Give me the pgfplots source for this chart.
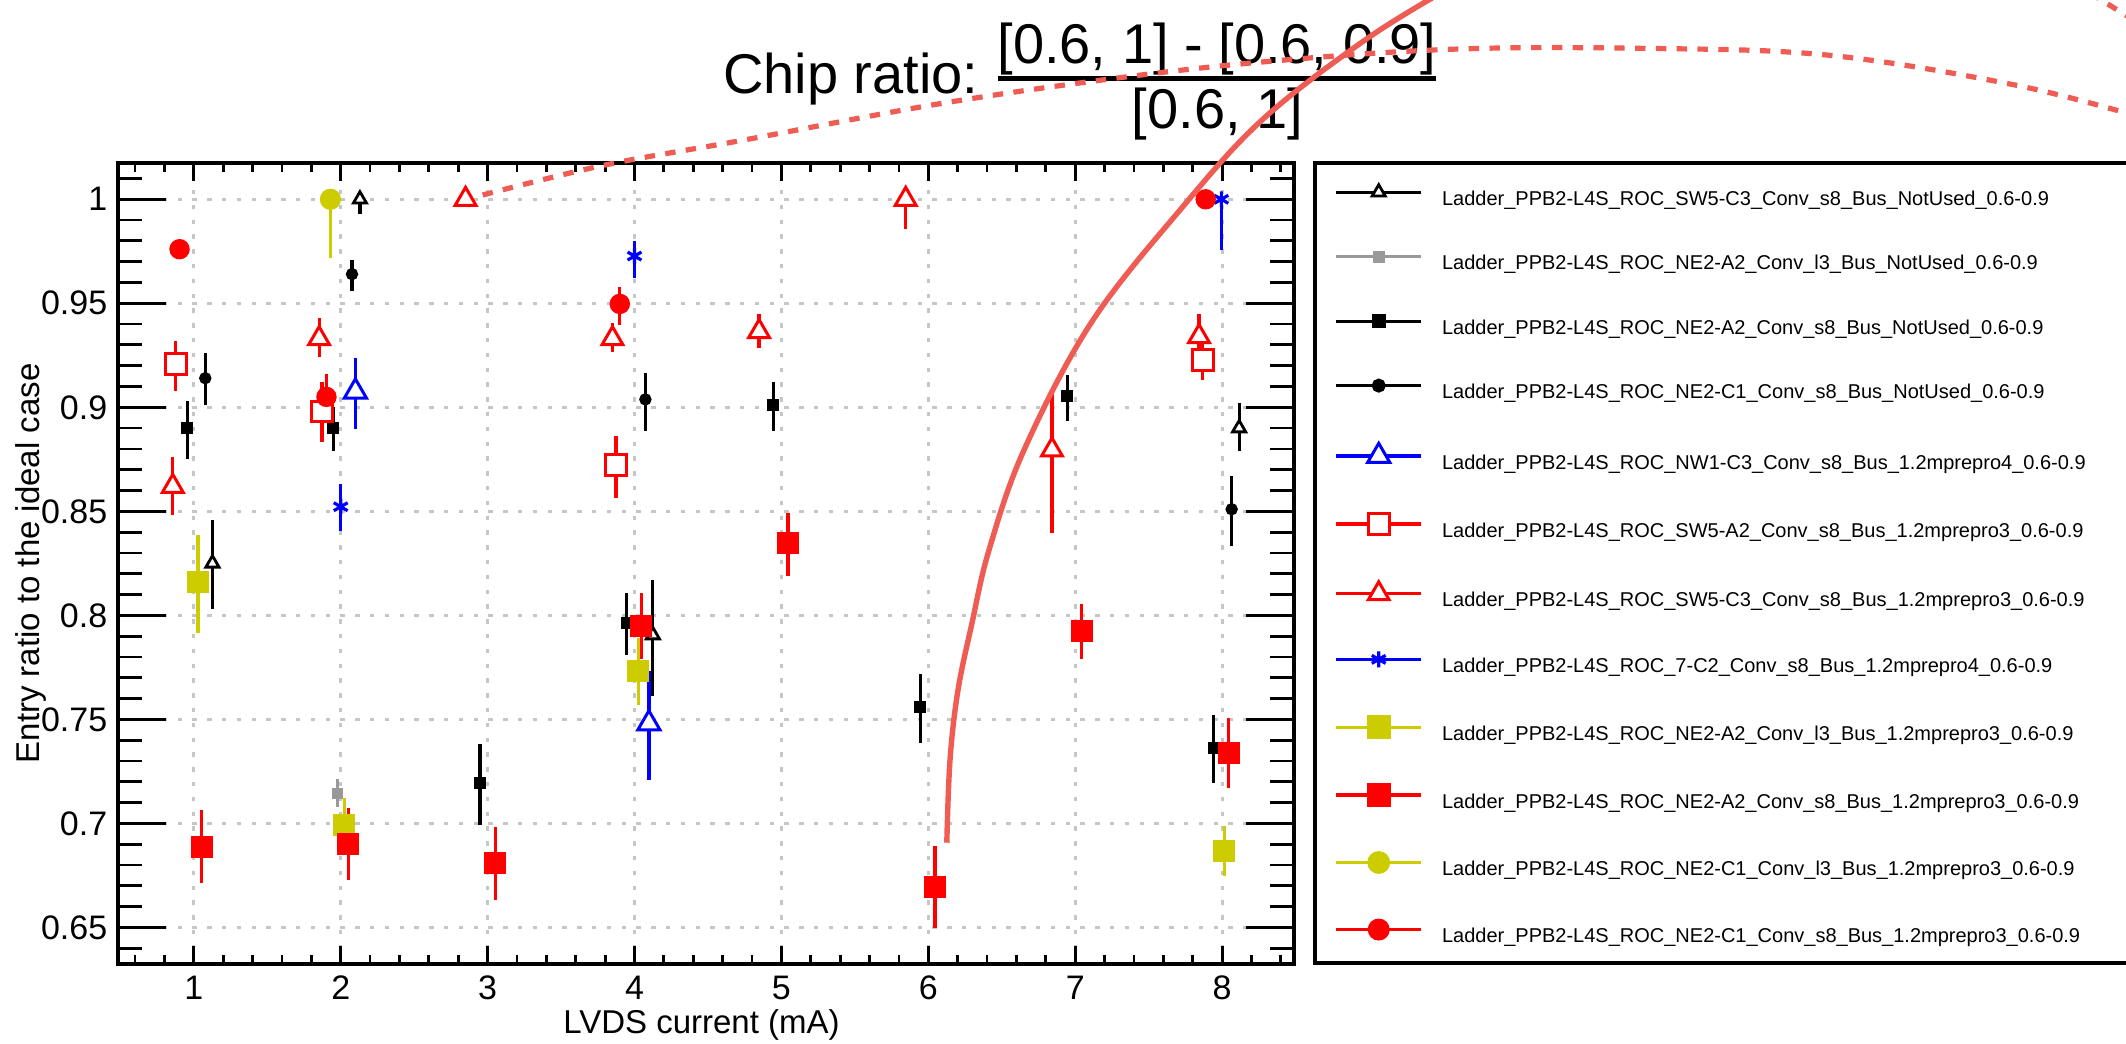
\documentclass[border=0pt]{standalone}
\usepackage{pgfplots}
\pgfplotsset{compat=1.18}
\usepackage{pgfplotstable}
\usepackage{fontspec}
\setmainfont{Liberation Sans}

\definecolor{rootyellow}{RGB}{204,204,0}
\definecolor{rootgray}{RGB}{153,153,153}
\definecolor{annot}{RGB}{238,92,84}

% x = LVDS current (mA), y = ratio, ep/em = upper/lower uncertainty
\pgfplotstableread{
x y ep em
2.131 1.000 0.000 0.007
1.127 0.825 0.021 0.022
4.125 0.7905 0.0265 0.0295
8.116 0.890 0.012 0.011
}\sA
\pgfplotstableread{
x y ep em
1.977 0.7144 0.0068 0.0067
}\sB
\pgfplotstableread{
x y ep em
0.956 0.890 0.013 0.015
1.949 0.890 0.010 0.011
2.948 0.7192 0.019 0.020
3.946 0.7962 0.0144 0.0153
4.945 0.901 0.011 0.0124
5.945 0.7558 0.0158 0.017
6.945 0.9054 0.0101 0.012
7.943 0.736 0.016 0.0165
}\sC
\pgfplotstableread{
x y ep em
1.078 0.914 0.012 0.013
2.077 0.964 0.007 0.008
4.074 0.9038 0.0128 0.0152
8.065 0.851 0.016 0.0177
}\sD
\pgfplotstableread{
x y ep em
2.100 0.9075 0.016 0.018
4.098 0.748 0.025 0.027
}\sE
\pgfplotstableread{
x y ep em
0.878 0.921 0.011 0.013
1.872 0.898 0.014 0.0145
3.874 0.8723 0.0137 0.016
7.868 0.9227 0.008 0.0096
}\sF
\pgfplotstableread{
x y ep em
0.857 0.862 0.014 0.014
1.853 0.933 0.010 0.009
2.850 1.000 0.000 0.000
3.850 0.933 0.0075 0.0063
4.848 0.9364 0.0086 0.008
5.846 1.000 0.000 0.0144
6.842 0.8795 0.029 0.040
7.843 0.934 0.011 0.011
}\sG
\pgfplotstableread{
x y ep em
2.000 0.8522 0.011 0.0115
4.000 0.9727 0.0073 0.0107
7.995 1.000 0.000 0.0244
}\sH
\pgfplotstableread{
x y ep em
1.029 0.816 0.0226 0.0247
2.025 0.6992 0.0128 0.010
4.025 0.7734 0.0156 0.0165
8.015 0.6868 0.0119 0.0121
}\sI
\pgfplotstableread{
x y ep em
1.054 0.6888 0.0176 0.0176
2.052 0.690 0.0172 0.0173
3.051 0.6811 0.0173 0.018
4.046 0.7949 0.0157 0.0161
5.045 0.8349 0.0144 0.016
6.046 0.6695 0.0196 0.020
7.043 0.7926 0.0128 0.0137
8.044 0.734 0.0165 0.0172
}\sJ
\pgfplotstableread{
x y ep em
1.930 1.000 0.000 0.028
}\sK
\pgfplotstableread{
x y ep em
0.903 0.976 0.004 0.004
1.903 0.905 0.011 0.010
3.900 0.9497 0.0083 0.0101
7.888 1.000 0.000 0.000
}\sL

\pgfplotsset{
  rootpt/.style={only marks, error bars/.cd, y dir=both, y explicit,
    error mark=none, error bar style={line width=0.8pt, solid}},
}

\begin{document}
\begin{tikzpicture}
\useasboundingbox (0,0) rectangle (531.5pt,260.75pt);
\begin{axis}[
  at={(29.6pt,19.75pt)}, anchor=south west,
  scale only axis, width=293.9pt, height=200.33pt,
  xmin=0.4867, xmax=8.4895, ymin=0.63236, ymax=1.0176,
  xtick={1,2,3,4,5,6,7,8},
  xticklabels={1,2,3,4,5,6,7,8},
  ytick={0.65,0.7,0.75,0.8,0.85,0.9,0.95,1},
  yticklabels={0.65,0.7,0.75,0.8,0.85,0.9,0.95,1},
  minor xtick={0.6,0.8,1.2,1.4,1.6,1.8,2.2,2.4,2.6,2.8,3.2,3.4,3.6,3.8,4.2,4.4,4.6,4.8,5.2,5.4,5.6,5.8,6.2,6.4,6.6,6.8,7.2,7.4,7.6,7.8,8.2,8.4},
  minor ytick={0.64,0.66,0.67,0.68,0.69,0.71,0.72,0.73,0.74,0.76,0.77,0.78,0.79,0.81,0.82,0.83,0.84,0.86,0.87,0.88,0.89,0.91,0.92,0.93,0.94,0.96,0.97,0.98,0.99,1.01},
  tick align=inside,
  xtick style={/pgfplots/major tick length=4.5pt, /pgfplots/minor tick length=2.25pt},
  ytick style={/pgfplots/major tick length=12pt, /pgfplots/minor tick length=6pt},
  every tick/.append style={black, line width=0.7pt},
  axis line style={line width=1pt},
  grid=major,
  major grid style={draw=gray!45, line width=0.7pt, dash pattern=on 1.1pt off 2.6pt},
  xticklabel style={font=\fontsize{8.5}{10}\selectfont, inner sep=0pt, anchor=north, yshift=-2.75pt},
  yticklabel style={font=\fontsize{8.5}{10}\selectfont, inner sep=0pt, anchor=east, xshift=-2.6pt},
  xlabel={LVDS current (mA)},
  ylabel={Entry ratio to the ideal case},
  every axis x label/.style={at={(axis description cs:0.496,-0.0861)}, anchor=base, font=\fontsize{8.25}{10}\selectfont},
  every axis y label/.style={at={(axis description cs:-0.0743,0.5)}, rotate=90, anchor=center, font=\fontsize{8.25}{10}\selectfont},
  legend style={draw=none, fill=none, at={(axis description cs:1.03403,0.97354)}, anchor=north west,
    inner sep=0pt, row sep=9.11pt, column sep=4.85pt, font=\fontsize{5}{6}\selectfont,
    nodes={inner sep=0pt, text height=5pt, text depth=2pt}},
  legend cell align=left,
  legend image code/.code={
    \draw[sharp plot, line width=0.8pt, mark repeat=2, mark phase=2]
      plot coordinates {(0pt,1.8pt) (10.575pt,1.8pt) (21.15pt,1.8pt)};
  },
]
\addplot[black, mark=triangle*, mark size=1.9pt, mark options={fill=white, line width=0.7pt}, rootpt]
  table[x=x, y=y, y error plus=ep, y error minus=em]{\sA};
\addlegendentry{Ladder\_PPB2-L4S\_ROC\_SW5-C3\_Conv\_s8\_Bus\_NotUsed\_0.6-0.9}
\addplot[rootgray, mark=square*, mark size=1.15pt, mark options={fill=rootgray}, rootpt]
  table[x=x, y=y, y error plus=ep, y error minus=em]{\sB};
\addlegendentry{Ladder\_PPB2-L4S\_ROC\_NE2-A2\_Conv\_l3\_Bus\_NotUsed\_0.6-0.9}
\addplot[black, mark=square*, mark size=1.3pt, mark options={fill=black}, rootpt]
  table[x=x, y=y, y error plus=ep, y error minus=em]{\sC};
\addlegendentry{Ladder\_PPB2-L4S\_ROC\_NE2-A2\_Conv\_s8\_Bus\_NotUsed\_0.6-0.9}
\addplot[black, mark=*, mark size=1.35pt, mark options={fill=black}, rootpt]
  table[x=x, y=y, y error plus=ep, y error minus=em]{\sD};
\addlegendentry{Ladder\_PPB2-L4S\_ROC\_NE2-C1\_Conv\_s8\_Bus\_NotUsed\_0.6-0.9}
\addplot[blue, mark=triangle*, mark size=3.2pt, mark options={fill=white, line width=0.75pt}, rootpt]
  table[x=x, y=y, y error plus=ep, y error minus=em]{\sE};
\addlegendentry{Ladder\_PPB2-L4S\_ROC\_NW1-C3\_Conv\_s8\_Bus\_1.2mprepro4\_0.6-0.9}
\addplot[red, mark=square*, mark size=2.6pt, mark options={fill=white, line width=0.75pt}, rootpt]
  table[x=x, y=y, y error plus=ep, y error minus=em]{\sF};
\addlegendentry{Ladder\_PPB2-L4S\_ROC\_SW5-A2\_Conv\_s8\_Bus\_1.2mprepro3\_0.6-0.9}
\addplot[red, mark=triangle*, mark size=3.0pt, mark options={fill=white, line width=0.75pt}, rootpt]
  table[x=x, y=y, y error plus=ep, y error minus=em]{\sG};
\addlegendentry{Ladder\_PPB2-L4S\_ROC\_SW5-C3\_Conv\_s8\_Bus\_1.2mprepro3\_0.6-0.9}
\addplot[blue, mark=asterisk, mark size=2.0pt, mark options={line width=0.8pt}, rootpt]
  table[x=x, y=y, y error plus=ep, y error minus=em]{\sH};
\addlegendentry{Ladder\_PPB2-L4S\_ROC\_7-C2\_Conv\_s8\_Bus\_1.2mprepro4\_0.6-0.9}
\addplot[rootyellow, mark=square*, mark size=2.55pt, mark options={fill=rootyellow}, rootpt]
  table[x=x, y=y, y error plus=ep, y error minus=em]{\sI};
\addlegendentry{Ladder\_PPB2-L4S\_ROC\_NE2-A2\_Conv\_l3\_Bus\_1.2mprepro3\_0.6-0.9}
\addplot[red, mark=square*, mark size=2.55pt, mark options={fill=red}, rootpt]
  table[x=x, y=y, y error plus=ep, y error minus=em]{\sJ};
\addlegendentry{Ladder\_PPB2-L4S\_ROC\_NE2-A2\_Conv\_s8\_Bus\_1.2mprepro3\_0.6-0.9}
\addplot[rootyellow, mark=*, mark size=2.45pt, mark options={fill=rootyellow}, rootpt]
  table[x=x, y=y, y error plus=ep, y error minus=em]{\sK};
\addlegendentry{Ladder\_PPB2-L4S\_ROC\_NE2-C1\_Conv\_l3\_Bus\_1.2mprepro3\_0.6-0.9}
\addplot[red, mark=*, mark size=2.35pt, mark options={fill=red}, rootpt]
  table[x=x, y=y, y error plus=ep, y error minus=em]{\sL};
\addlegendentry{Ladder\_PPB2-L4S\_ROC\_NE2-C1\_Conv\_s8\_Bus\_1.2mprepro3\_0.6-0.9}
\end{axis}

% pixel-style frame: origin top left, y pointing down
\begin{scope}[x=0.25pt, y=-0.25pt, shift={(0pt,260.75pt)}]
  % legend frame, open towards the right edge
  \draw[line width=1pt] (2140,163) -- (1315,163) -- (1315,963) -- (2140,963);
  % title
  \node[anchor=base west, inner sep=0pt, font=\fontsize{14}{16}\selectfont] at (722.5,93.3) {Chip ratio:};
  \node[anchor=base, inner sep=0pt, font=\fontsize{14}{16}\selectfont] at (1217,63.3) {[0.6, 1] - [0.6, 0.9]};
  \draw[line width=1.25pt] (998,78.5) -- (1436,78.5);
  \node[anchor=base, inner sep=0pt, font=\fontsize{14}{16}\selectfont] at (1217.5,128.5) {[0.6, 1]};
  % hand-drawn marks
  \begin{scope}
    \clip (0,0) rectangle (2126,1043);
    \draw[annot, line width=1.35pt, line cap=butt] plot[smooth, tension=0.6] coordinates {
      (946.8,842.7) (950,760) (958,690) (972,623) (989,550) (1024,450)
      (1091,323) (1180,210) (1262,120) (1365,40) (1446,-10)};
    \draw[annot, line width=1.3pt, dash pattern=on 2.6pt off 2.6pt] plot[smooth, tension=0.6] coordinates {
      (482.7,195) (605,165) (744,140) (932,105) (1102,80) (1262,62)
      (1450,49.3) (1638,48.3) (1826.6,55) (2015,85) (2140,117)};
    \draw[annot, line width=1.3pt, dash pattern=on 2.6pt off 2.6pt] (2090,-7) -- (2140,24);
  \end{scope}
\end{scope}
\end{tikzpicture}
\end{document}
